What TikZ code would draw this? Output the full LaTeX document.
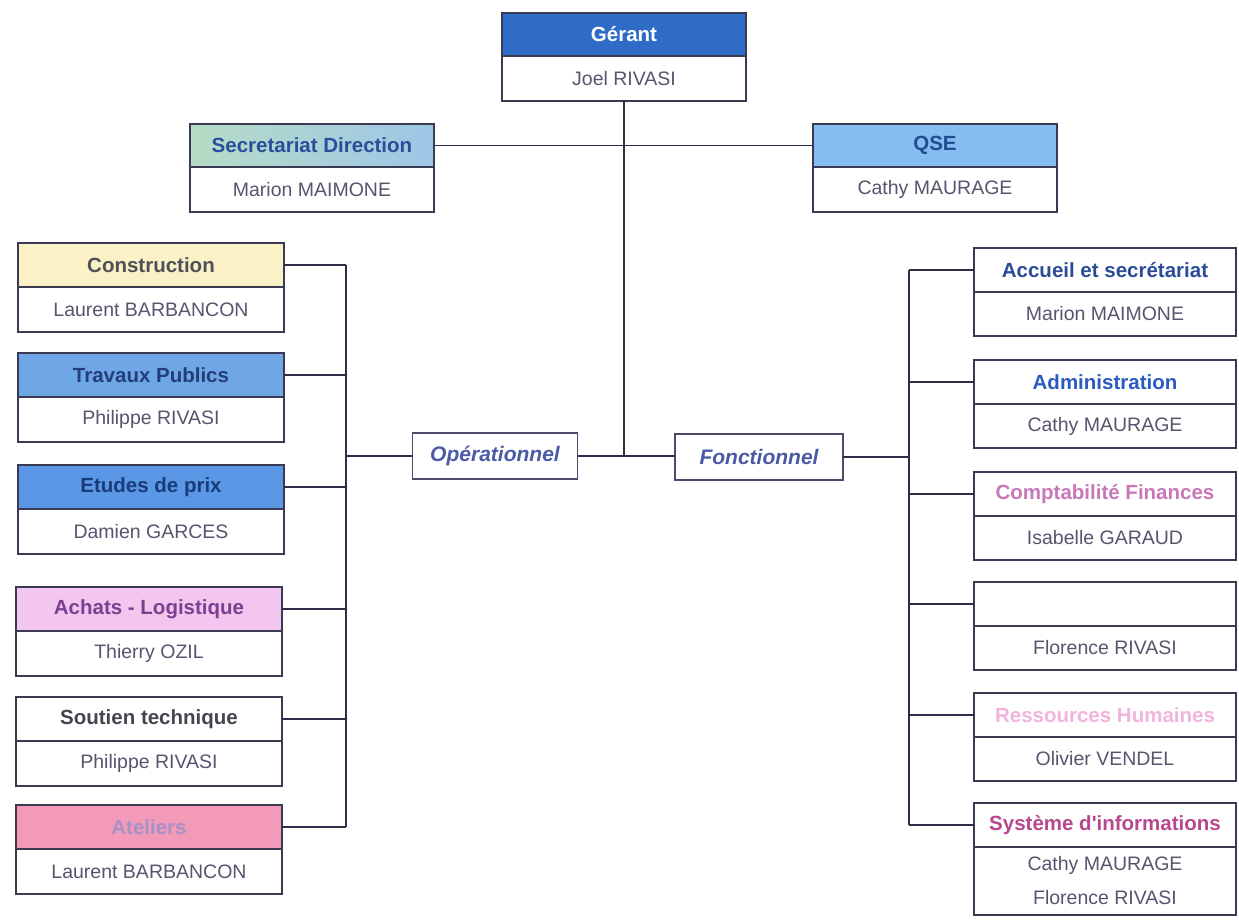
\documentclass[tikz,border=0pt]{standalone}
\usepackage{fontspec}
\setmainfont{Liberation Sans}[Ligatures=TeXOff]
\definecolor{boxline}{HTML}{3A3A52}
\definecolor{linkcol}{HTML}{2E2E48}
\definecolor{namecol}{HTML}{55566E}
\definecolor{midline}{HTML}{4A4A6A}
\definecolor{midtext}{HTML}{4A5AA6}
\definecolor{gerantfill}{HTML}{2F6CC8}
\definecolor{secL}{HTML}{B6DCC6}
\definecolor{secR}{HTML}{9EC6E6}
\definecolor{sectext}{HTML}{2A4F9A}
\definecolor{qsefill}{HTML}{86BDF0}
\definecolor{qsetext}{HTML}{1F4F8F}
\definecolor{consfill}{HTML}{FBF1C6}
\definecolor{constext}{HTML}{505058}
\definecolor{tpfill}{HTML}{6FA6E6}
\definecolor{tptext}{HTML}{233F7A}
\definecolor{epfill}{HTML}{5A98E6}
\definecolor{eptext}{HTML}{1A3A7A}
\definecolor{achfill}{HTML}{F2C6EF}
\definecolor{achtext}{HTML}{7D3F8F}
\definecolor{soutext}{HTML}{454550}
\definecolor{atefill}{HTML}{F39AB8}
\definecolor{atetext}{HTML}{A890C8}
\definecolor{acctext}{HTML}{2C4C98}
\definecolor{admtext}{HTML}{2A5CC0}
\definecolor{comtext}{HTML}{C878B8}
\definecolor{rhtext}{HTML}{F2B4DC}
\definecolor{sitext}{HTML}{B8488E}
\newcommand\hdrfnt{\fontsize{20.5}{24}\selectfont\bfseries}
\newcommand\nmfnt{\fontsize{19.5}{23}\selectfont}
\newcommand\midfnt{\fontsize{21}{25}\selectfont\bfseries\itshape}
\begin{document}
\begin{tikzpicture}[x=1pt,y=-1pt,
  box/.style={draw=boxline, line width=1.2pt, inner sep=0pt, outer sep=0pt, align=center},
  lhd/.style={box, anchor=north, minimum width=266pt, minimum height=44pt, font=\hdrfnt},
  lnm/.style={box, anchor=north, fill=white, minimum width=266pt, minimum height=45pt, font=\nmfnt, text=namecol},
  rhd/.style={box, anchor=north, minimum width=262pt, minimum height=44pt, font=\hdrfnt},
  rnm/.style={box, anchor=north, fill=white, minimum width=262pt, minimum height=44pt, font=\nmfnt, text=namecol},
  thd/.style={box, anchor=north, minimum width=244pt, minimum height=43pt, font=\hdrfnt},
  tnm/.style={box, anchor=north, fill=white, minimum width=244pt, minimum height=45pt, font=\nmfnt, text=namecol},
  midbox/.style={box, draw=midline, fill=white, minimum height=46pt, font=\midfnt, text=midtext},
  link/.style={draw=linkcol, line width=1.4pt}
]
\fill[white] (0,0) rectangle (1239,921);
\useasboundingbox (0,0) rectangle (1239,921);

% top
\node[thd, fill=gerantfill, text=white] (hger) at (624,13) {Gérant};
\node[tnm] (nger) at (hger.south) {Joel RIVASI};
\node[thd, left color=secL, right color=secR, text=sectext] (hsec) at (312,124) {Secretariat Direction};
\node[tnm] (nsec) at (hsec.south) {Marion MAIMONE};
\node[thd, fill=qsefill, text=qsetext] (hqse) at (935,124) {QSE};
\node[tnm] (nqse) at (hqse.south) {Cathy MAURAGE};

% middle
\node[midbox, minimum width=165pt] (hop) at (495,456) {Opérationnel};
\node[midbox, minimum width=168pt] (hfo) at (759,457) {Fonctionnel};

% left column
\node[lhd, fill=consfill, text=constext] (hcon) at (151,243) {Construction};
\node[lnm] (ncon) at (hcon.south) {Laurent BARBANCON};
\node[lhd, fill=tpfill, text=tptext] (htp) at (151,353) {Travaux Publics};
\node[lnm] (ntp) at (htp.south) {Philippe RIVASI};
\node[lhd, fill=epfill, text=eptext] (hep) at (151,465) {Etudes de prix};
\node[lnm] (nep) at (hep.south) {Damien GARCES};
\node[lhd, fill=achfill, text=achtext] (hach) at (149,587) {Achats - Logistique};
\node[lnm] (nach) at (hach.south) {Thierry OZIL};
\node[lhd, fill=white, text=soutext] (hsou) at (149,697) {Soutien technique};
\node[lnm] (nsou) at (hsou.south) {Philippe RIVASI};
\node[lhd, fill=atefill, text=atetext] (hate) at (149,805) {Ateliers};
\node[lnm] (nate) at (hate.south) {Laurent BARBANCON};

% right column
\node[rhd, fill=white, text=acctext] (hacc) at (1105,248) {Accueil et secrétariat};
\node[rnm] (nacc) at (hacc.south) {Marion MAIMONE};
\node[rhd, fill=white, text=admtext] (hadm) at (1105,360) {Administration};
\node[rnm] (nadm) at (hadm.south) {Cathy MAURAGE};
\node[rhd, fill=white, text=comtext] (hcom) at (1105,472) {Comptabilité Finances};
\node[rnm] (ncom) at (hcom.south) {Isabelle GARAUD};
\node[rhd, fill=white] (hfl) at (1105,582) {};
\node[rnm] (nfl) at (hfl.south) {Florence RIVASI};
\node[rhd, fill=white, text=rhtext] (hrh) at (1105,693) {Ressources Humaines};
\node[rnm] (nrh) at (hrh.south) {Olivier VENDEL};
\node[rhd, fill=white, text=sitext] (hsi) at (1105,803) {Système d'informations};
\node[rnm, minimum height=68pt, font=\fontsize{19.5}{34}\selectfont] (nsi) at (hsi.south) {Cathy MAURAGE\\Florence RIVASI};

% connectors
\coordinate (lbus) at (346,0);
\coordinate (rbus) at (909,0);
\draw[link] (nger.south) -- (nger.south |- hfo.west);
\draw[link] (hop.east) -- (hop.east -| hfo.west);
\draw[link] (hsec.east) -- (hqse.west);
\foreach \n in {hcon,htp,hep,hach,hsou,hate}
  \draw[link] (\n.east) -- (\n.east -| lbus);
\draw[link] (hcon.east -| lbus) -- (hate.east -| lbus);
\draw[link] (hop.west) -- (hop.west -| lbus);
\foreach \n in {hacc,hadm,hcom,hfl,hrh,hsi}
  \draw[link] (\n.west) -- (\n.west -| rbus);
\draw[link] (hacc.west -| rbus) -- (hsi.west -| rbus);
\draw[link] (hfo.east) -- (hfo.east -| rbus);
\end{tikzpicture}
\end{document}
